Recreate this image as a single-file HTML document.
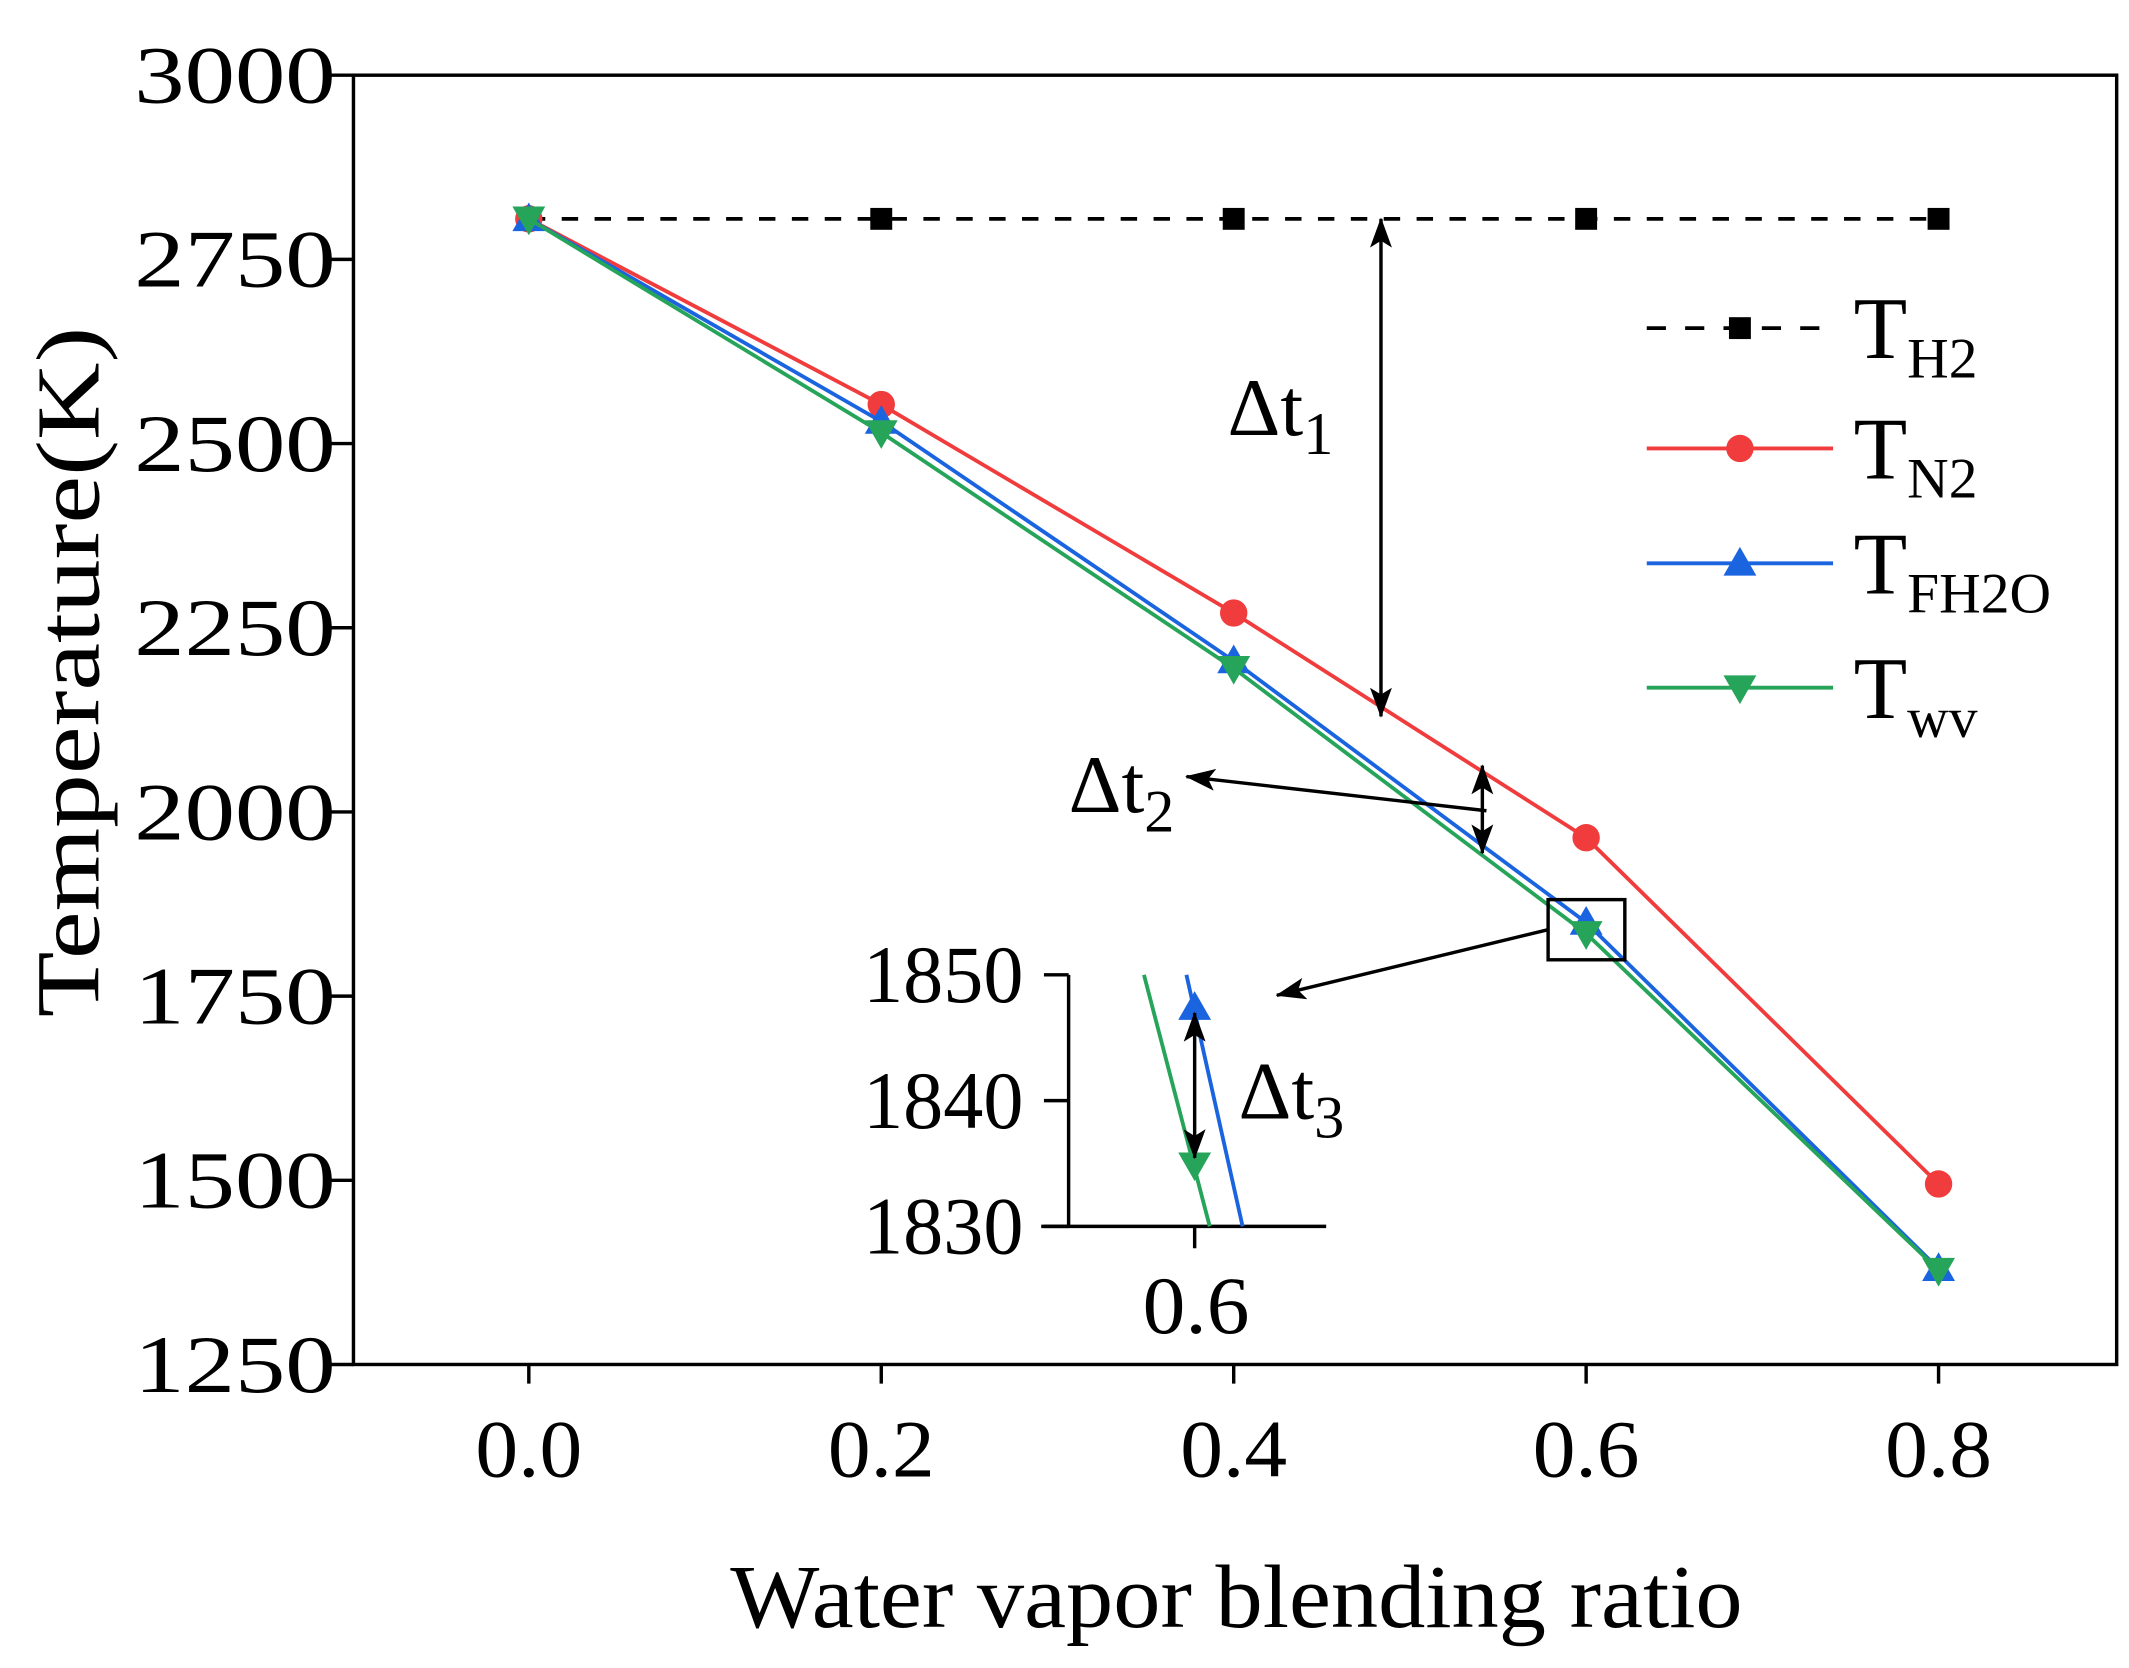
<!DOCTYPE html>
<html><head><meta charset="utf-8"><style>
html,body{margin:0;padding:0;background:#fff;}
svg{display:block;}
text{font-family:"Liberation Serif",serif;fill:#000;}
</style></head><body>
<svg id="chart" width="2129" height="1668" viewBox="0 0 1554 1220" preserveAspectRatio="none" xmlns="http://www.w3.org/2000/svg">
<defs>
<marker id="ah" viewBox="0 0 22 16" refX="21" refY="8" markerWidth="22" markerHeight="16" markerUnits="userSpaceOnUse" orient="auto-start-reverse"><path d="M0,0 L22,8 L0,16 L5,8 z" fill="#000"/></marker>
</defs>
<g id="plot"></g>
</svg>
<script>
const categories=[0.0,0.2,0.4,0.6,0.8];
const tH2=[2805,2805,2805,2805,2805];
const tN2=[2805,2553,2270,1965,1495];
const tFH2O=[2805,2530,2205,1850,1380];
const tWV=[2805,2515,2195,1835,1378];
const yTicks=[1250,1500,1750,2000,2250,2500,2750,3000];
const xTickLabels=["0.0","0.2","0.4","0.6","0.8"];
const insetY=[1830,1840,1850];
const insetBlue=[1850,1830];
const insetGreen=[1850,1830];
const insetFH2O=1847.4, insetWV=1834.9;

const NS="http://www.w3.org/2000/svg";
const g=document.getElementById('plot');
const L=258,R=1545,T=55,B=998;
const xs=v=>386+(v-0)/0.8*(1415-386);
const ys=v=>B-(v-1250)/(3000-1250)*(B-T);
function el(tag,attrs,parent){const e=document.createElementNS(NS,tag);for(const k in attrs)e.setAttribute(k,attrs[k]);(parent||g).appendChild(e);return e;}

let f=el('rect',{x:L,y:T,width:R-L,height:B-T,fill:'none',stroke:'#000','stroke-width':2.5});


yTicks.forEach(v=>{
  const t=el('line',{x1:L-18,x2:L,y1:ys(v),y2:ys(v),stroke:'#000','stroke-width':2.5});
  
  
  const tx=el('text',{x:98,y:ys(v)+20,'font-size':60,textLength:147,lengthAdjust:'spacingAndGlyphs'});
  tx.textContent=v;
  
  
});
categories.forEach((c,i)=>{
  const t=el('line',{x1:xs(c),x2:xs(c),y1:B,y2:B+14,stroke:'#000','stroke-width':2.5});
  
  
  const tx=el('text',{x:xs(c)-39,y:1080,'font-size':60,textLength:78,lengthAdjust:'spacingAndGlyphs'});
  tx.textContent=xTickLabels[i];
  
  
});
let xt=el('text',{x:533,y:1190,'font-size':66,textLength:739,lengthAdjust:'spacingAndGlyphs'});
xt.textContent='Water vapor blending ratio';


let yt=el('text',{x:-252,y:0,'font-size':66,textLength:505,lengthAdjust:'spacingAndGlyphs',transform:'translate(72,492) rotate(-90)'});
yt.textContent='Temperature(K)';



function marker(type,x,y,color,parent){
  let m;
  if(type==='sq') m=el('rect',{x:x-8,y:y-8,width:16,height:16,fill:color},parent);
  else if(type==='ci') m=el('circle',{cx:x,cy:y,r:10,fill:color},parent);
  else if(type==='up') m=el('path',{d:`M${x},${y-12} L${x+12},${y+9} L${x-12},${y+9} z`,fill:color},parent);
  else m=el('path',{d:`M${x},${y+12} L${x+12},${y-9} L${x-12},${y-9} z`,fill:color},parent);
  return m;
}
const series=[
  {name:'series-h2',data:tH2,color:'#000',m:'sq',dash:'12,12'},
  {name:'series-n2',data:tN2,color:'#f03c3c',m:'ci'},
  {name:'series-fh2o',data:tFH2O,color:'#1a64e0',m:'up'},
  {name:'series-wv',data:tWV,color:'#26a55a',m:'dn'}
];
series.forEach(s=>{
  const grp=el('g',{});
  
  
  const p=el('polyline',{points:categories.map((c,i)=>xs(c)+','+ys(s.data[i])).join(' '),fill:'none',stroke:s.color,'stroke-width':2.8},grp);
  if(s.dash)p.setAttribute('stroke-dasharray',s.dash);
  
  
  categories.forEach((c,i)=>{
    const m=marker(s.m,xs(c),ys(s.data[i]),s.color,grp);
    
    
  });
});

const legNames=['H2','N2','FH2O','wv'];
const legY=[240,328,412,503];
series.forEach((s,i)=>{
  const lg=el('g',{});
  
  
  const ln=el('line',{x1:1202,x2:1338,y1:legY[i],y2:legY[i],stroke:s.color,'stroke-width':2.8},lg);
  if(s.dash)ln.setAttribute('stroke-dasharray','14,14');
  marker(s.m,1270,legY[i],s.color,lg);
  const tx=el('text',{x:1353,y:legY[i]+22,'font-size':64},lg);
  tx.innerHTML='T<tspan font-size="42" dy="14">'+legNames[i]+'</tspan>';
});

function arrow(x1,y1,x2,y2,both,name){
  const a=el('line',{x1,y1,x2,y2,stroke:'#000','stroke-width':2.5,'marker-end':'url(#ah)'});
  if(both)a.setAttribute('marker-start','url(#ah)');
  
  
}
arrow(1008,ys(tH2[0]),1008,524,true,'delta-t1-arrow');
arrow(1082,560,1082,624,true,'delta-t2-arrow');
arrow(1085,593,866,568,false,'delta-t2-pointer');
arrow(1130,680,932,728,false,'inset-pointer');
function label(x,y,sub,name){
  const t=el('text',{x,y,'font-size':60});
  t.innerHTML='Δt<tspan font-size="44" dy="14">'+sub+'</tspan>';
  
  
}
label(896,318,'1','delta-t1-label');
label(780,594,'2','delta-t2-label');
label(904,818,'3','delta-t3-label');
let box=el('rect',{x:1130,y:658,width:56,height:44,fill:'none',stroke:'#000','stroke-width':2.5});



const iy=v=>897-(v-1830)/20*(897-713);
const ix=v=>872+(v-0.6)*1000;
const inset=el('g',{});


el('line',{x1:780,x2:780,y1:713,y2:897,stroke:'#000','stroke-width':2.5},inset);
el('line',{x1:760,x2:968,y1:897,y2:897,stroke:'#000','stroke-width':2.5},inset);
insetY.forEach(v=>{
  el('line',{x1:762,x2:780,y1:iy(v),y2:iy(v),stroke:'#000','stroke-width':2.5},inset);
  const t=el('text',{x:630,y:iy(v)+20,'font-size':60,textLength:117,lengthAdjust:'spacingAndGlyphs'},inset);
  t.textContent=v;
  
  
});
el('line',{x1:872,x2:872,y1:897,y2:913,stroke:'#000','stroke-width':2.5},inset);
let it=el('text',{x:834,y:975,'font-size':60,textLength:78,lengthAdjust:'spacingAndGlyphs'},inset);
it.textContent='0.6';


el('line',{x1:866,y1:iy(insetBlue[0]),x2:907,y2:iy(insetBlue[1]),stroke:'#1a64e0','stroke-width':2.8},inset);
el('line',{x1:835,y1:iy(insetGreen[0]),x2:883,y2:iy(insetGreen[1]),stroke:'#26a55a','stroke-width':2.8},inset);
marker('up',ix(0.6),iy(insetFH2O),'#1a64e0',inset);
marker('dn',ix(0.6),iy(insetWV),'#26a55a',inset);
arrow(872,iy(insetFH2O)+4,872,iy(insetWV)-5,true,'delta-t3-arrow');
</script>
</body></html>
